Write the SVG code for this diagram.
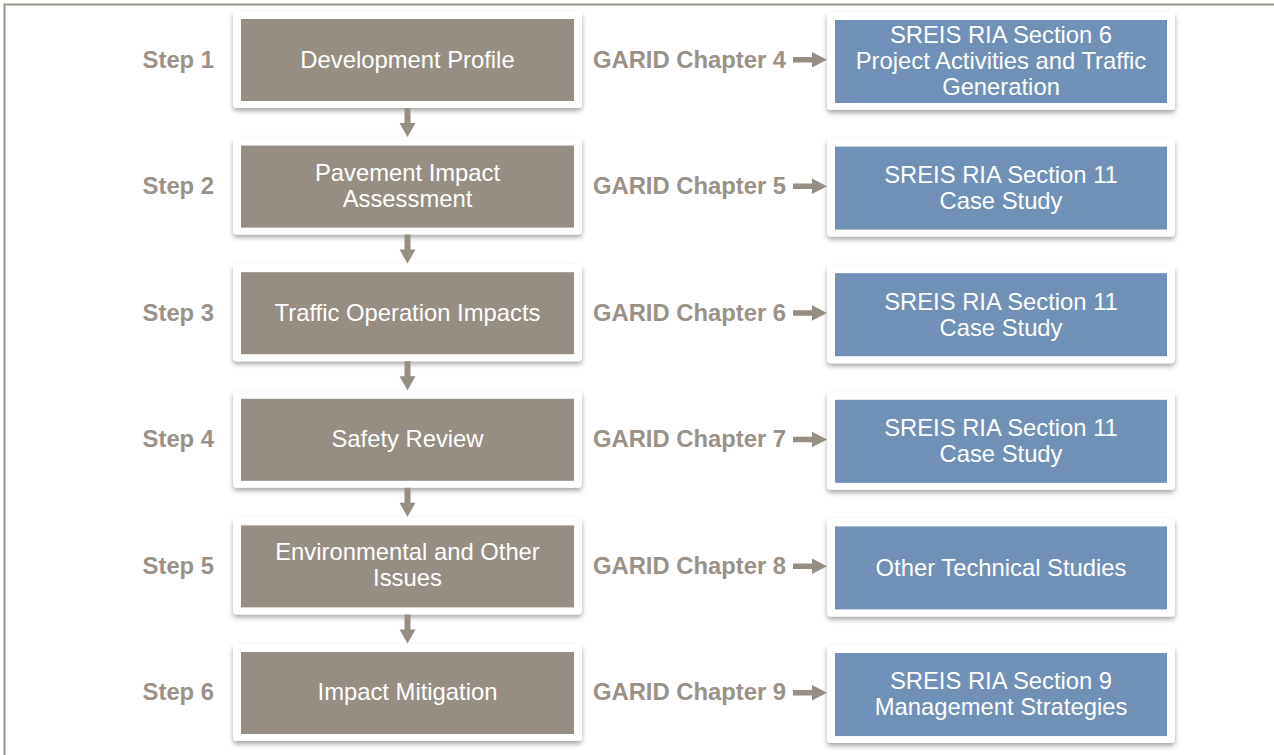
<svg xmlns="http://www.w3.org/2000/svg" width="1274" height="755" viewBox="0 0 1274 755">
  <defs>
    <filter id="shadow" x="-10%" y="-20%" width="120%" height="150%">
      <feDropShadow dx="0" dy="3" stdDeviation="2.5" flood-color="#000" flood-opacity="0.35"/>
    </filter>
  </defs>
  <style>
    .card { fill: #ffffff; filter: url(#shadow); }
    .step { fill: #968d83; }
    .ref { fill: #7090b8; }
    .lbl { font-family: "Liberation Sans", Arial, sans-serif; font-weight: bold; font-size: 23.8px; fill: #9a9188; }
    .btxt { font-family: "Liberation Sans", Arial, sans-serif; font-size: 23.8px; fill: #ffffff; text-anchor: middle; }
    .conn { fill: #968d83; }
  </style>

  <!-- outer frame -->
  <path d="M4.5,755 L4.5,4.5 L1274,4.5" fill="none" stroke="#9b948b" stroke-width="2"/>

  <!-- left column: steps -->
  <g id="step1">
    <text class="lbl" x="214" y="67.5" text-anchor="end">Step 1</text>
    <rect class="card" x="233" y="11" width="349" height="97" rx="4"/>
    <rect class="step" x="241" y="19" width="333" height="82"/>
    <text class="btxt" x="407.5" y="67.5">Development Profile</text>
  </g>
  <g id="step2">
    <text class="lbl" x="214" y="194" text-anchor="end">Step 2</text>
    <rect class="card" x="233" y="137.6" width="349" height="97" rx="4"/>
    <rect class="step" x="241" y="145.6" width="333" height="82"/>
    <text class="btxt" x="407.5" y="181">Pavement Impact</text>
    <text class="btxt" x="407.5" y="207">Assessment</text>
  </g>
  <g id="step3">
    <text class="lbl" x="214" y="320.5" text-anchor="end">Step 3</text>
    <rect class="card" x="233" y="264.2" width="349" height="97" rx="4"/>
    <rect class="step" x="241" y="272.2" width="333" height="82"/>
    <text class="btxt" x="407.5" y="320.5">Traffic Operation Impacts</text>
  </g>
  <g id="step4">
    <text class="lbl" x="214" y="447" text-anchor="end">Step 4</text>
    <rect class="card" x="233" y="390.8" width="349" height="97" rx="4"/>
    <rect class="step" x="241" y="398.8" width="333" height="82"/>
    <text class="btxt" x="407.5" y="447">Safety Review</text>
  </g>
  <g id="step5">
    <text class="lbl" x="214" y="573.5" text-anchor="end">Step 5</text>
    <rect class="card" x="233" y="517.4" width="349" height="97" rx="4"/>
    <rect class="step" x="241" y="525.4" width="333" height="82"/>
    <text class="btxt" x="407.5" y="560">Environmental and Other</text>
    <text class="btxt" x="407.5" y="586">Issues</text>
  </g>
  <g id="step6">
    <text class="lbl" x="214" y="700" text-anchor="end">Step 6</text>
    <rect class="card" x="233" y="644" width="349" height="97" rx="4"/>
    <rect class="step" x="241" y="652" width="333" height="82"/>
    <text class="btxt" x="407.5" y="700">Impact Mitigation</text>
  </g>

  <!-- right column: references -->
  <g id="ref1">
    <text class="lbl" x="786" y="67.5" text-anchor="end">GARID Chapter 4</text>
    <rect class="card" x="827" y="12" width="348" height="98" rx="4"/>
    <rect class="ref" x="835" y="20" width="332" height="83"/>
    <text class="btxt" x="1001" y="43">SREIS RIA Section 6</text>
    <text class="btxt" x="1001" y="69">Project Activities and Traffic</text>
    <text class="btxt" x="1001" y="95">Generation</text>
  </g>
  <g id="ref2">
    <text class="lbl" x="786" y="194" text-anchor="end">GARID Chapter 5</text>
    <rect class="card" x="827" y="138.6" width="348" height="98" rx="4"/>
    <rect class="ref" x="835" y="146.6" width="332" height="83"/>
    <text class="btxt" x="1001" y="183">SREIS RIA Section 11</text>
    <text class="btxt" x="1001" y="209">Case Study</text>
  </g>
  <g id="ref3">
    <text class="lbl" x="786" y="320.5" text-anchor="end">GARID Chapter 6</text>
    <rect class="card" x="827" y="265.2" width="348" height="98" rx="4"/>
    <rect class="ref" x="835" y="273.2" width="332" height="83"/>
    <text class="btxt" x="1001" y="310">SREIS RIA Section 11</text>
    <text class="btxt" x="1001" y="336">Case Study</text>
  </g>
  <g id="ref4">
    <text class="lbl" x="786" y="447" text-anchor="end">GARID Chapter 7</text>
    <rect class="card" x="827" y="391.8" width="348" height="98" rx="4"/>
    <rect class="ref" x="835" y="399.8" width="332" height="83"/>
    <text class="btxt" x="1001" y="436">SREIS RIA Section 11</text>
    <text class="btxt" x="1001" y="462">Case Study</text>
  </g>
  <g id="ref5">
    <text class="lbl" x="786" y="573.5" text-anchor="end">GARID Chapter 8</text>
    <rect class="card" x="827" y="518.4" width="348" height="98" rx="4"/>
    <rect class="ref" x="835" y="526.4" width="332" height="83"/>
    <text class="btxt" x="1001" y="576">Other Technical Studies</text>
  </g>
  <g id="ref6">
    <text class="lbl" x="786" y="700" text-anchor="end">GARID Chapter 9</text>
    <rect class="card" x="827" y="645" width="348" height="98" rx="4"/>
    <rect class="ref" x="835" y="653" width="332" height="83"/>
    <text class="btxt" x="1001" y="689">SREIS RIA Section 9</text>
    <text class="btxt" x="1001" y="715">Management Strategies</text>
  </g>

  <!-- connectors -->
  <g id="connectors" class="conn">
    <!-- step to step -->
    <path d="M404.5,108 h6 v15 h5 l-8,14 l-8,-14 h5 z"/>
    <path d="M404.5,234.6 h6 v15 h5 l-8,14 l-8,-14 h5 z"/>
    <path d="M404.5,361.2 h6 v15 h5 l-8,14 l-8,-14 h5 z"/>
    <path d="M404.5,487.8 h6 v15 h5 l-8,14 l-8,-14 h5 z"/>
    <path d="M404.5,614.4 h6 v15 h5 l-8,14 l-8,-14 h5 z"/>
    <!-- chapter to section -->
    <path d="M793,57 h19 v-5 l15,7.75 l-15,7.75 v-5 h-19 z"/>
    <path d="M793,183.6 h19 v-5 l15,7.75 l-15,7.75 v-5 h-19 z"/>
    <path d="M793,310.2 h19 v-5 l15,7.75 l-15,7.75 v-5 h-19 z"/>
    <path d="M793,436.8 h19 v-5 l15,7.75 l-15,7.75 v-5 h-19 z"/>
    <path d="M793,563.4 h19 v-5 l15,7.75 l-15,7.75 v-5 h-19 z"/>
    <path d="M793,690 h19 v-5 l15,7.75 l-15,7.75 v-5 h-19 z"/>
  </g>
</svg>
